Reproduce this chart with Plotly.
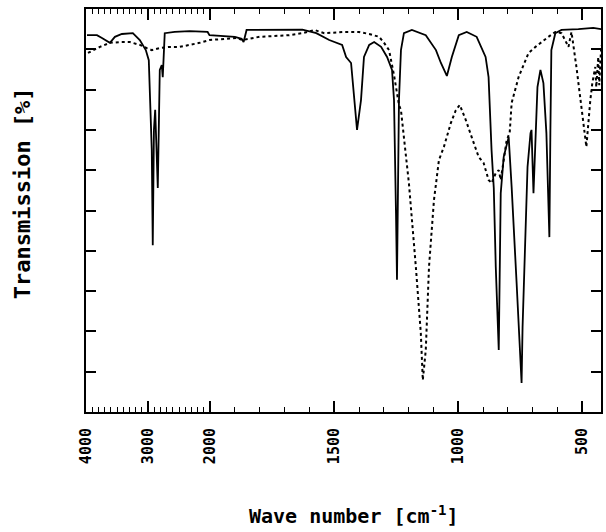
import plotly.graph_objects as go

# ---- data (wavenumber cm^-1, transmission %) ----
solid_wn = [3984, 3823, 3743, 3615, 3534, 3422, 3245, 3133, 3036, 2988, 2940, 2924, 2905, 2885,
            2843, 2811, 2779, 2763, 2731, 2571, 2330, 2040, 2010, 1900, 1873, 1865, 1853, 1628,
            1572, 1520, 1468, 1452, 1432, 1420, 1408, 1392, 1380, 1359, 1339, 1311, 1287, 1267,
            1259, 1251, 1247, 1239, 1231, 1219, 1187, 1131, 1090, 1070, 1046, 1026, 998, 966,
            926, 890, 878, 866, 857, 849, 837, 829, 817, 797, 785, 765, 749, 745, 741, 729, 721,
            709, 705, 697, 689, 681, 669, 657, 645, 633, 629, 625, 609, 584, 516, 456, 424]
solid_T = [93.5, 93.5, 92.8, 91.6, 93.1, 93.8, 94.0, 92.3, 89.8, 87.3, 65.0, 41.4, 70.0, 75.0,
           55.6, 84.9, 86.1, 83.1, 94.0, 94.3, 94.5, 94.3, 93.5, 93.1, 92.6, 91.8, 94.8, 94.9,
           94.0, 92.3, 91.1, 88.1, 86.6, 77.4, 70.0, 77.4, 88.1, 91.1, 91.8, 90.6, 88.1, 84.9,
           77.4, 49.4, 32.8, 77.4, 89.8, 94.0, 94.8, 93.5, 89.8, 86.6, 83.4, 88.1, 93.5, 94.3,
           93.1, 88.1, 83.1, 65.0, 55.6, 36.0, 15.4, 54.3, 63.3, 68.2, 55.8, 32.0, 11.2, 7.2, 21.1,
           44.4, 60.8, 69.2, 70.0, 54.3, 67.5, 80.6, 84.9, 81.6, 69.2, 43.4, 69.2, 89.8, 94.0,
           94.8, 95.0, 95.3, 95.0]

dotted_wn = [3968, 3888, 3775, 3615, 3454, 3293, 3133, 3020, 2940, 2811, 2651, 2490, 2169, 2009,
             1894, 1869, 1801, 1681, 1628, 1580, 1540, 1460, 1400, 1359, 1319, 1299, 1279, 1259,
             1239, 1231, 1199, 1171, 1151, 1143, 1131, 1118, 1098, 1078, 1058, 1030, 1010, 994,
             970, 946, 918, 898, 878, 866, 849, 837, 829, 817, 805, 793, 785, 757, 717, 689, 665,
             637, 609, 584, 556, 544, 524, 504, 484, 468, 460, 448, 444, 436, 432, 424]
dotted_T = [89.1, 89.8, 90.6, 91.6, 91.8, 91.8, 91.1, 90.3, 89.8, 90.3, 90.6, 90.6, 91.6, 92.3,
            92.8, 92.3, 93.1, 93.5, 94.0, 94.8, 94.0, 94.3, 94.3, 93.8, 93.1, 91.6, 89.8, 83.6,
            76.2, 74.9, 56.8, 36.0, 19.6, 7.9, 15.4, 36.0, 52.6, 62.5, 65.8, 71.7, 74.9, 76.2,
            72.5, 68.2, 63.3, 61.8, 57.6, 56.8, 59.3, 60.0, 57.6, 62.5, 67.5, 69.2, 76.7, 83.1,
            89.1, 90.6, 91.8, 93.1, 94.3, 94.0, 90.6, 94.3, 85.6, 74.9, 65.8, 77.4, 81.6, 85.6,
            80.6, 88.1, 81.1, 91.0]

major_wn = [4000, 3000, 2000, 1500, 1000, 500]
major_labels = ["4000", "3000", "2000", "1500", "1000", "500"]
minor_wn = list(range(3900, 2000, -100)) + list(range(1900, 400, -100))
x_min_wn, x_max_wn = 4000, 425
y_ticks = [10, 20, 30, 40, 50, 60, 70, 80, 90]


def pos(wn):
    """Piecewise axis: 4000-2000 compressed 4x relative to 2000-400."""
    return (4000 - wn) / 4.0 if wn >= 2000 else 500 + (2000 - wn)


FONT = "DejaVu Sans Mono"

fig = go.Figure()
fig.add_trace(go.Scatter(x=[pos(w) for w in solid_wn], y=solid_T, mode="lines",
                         line=dict(color="black", width=1.8), showlegend=False))
fig.add_trace(go.Scatter(x=[pos(w) for w in dotted_wn], y=dotted_T, mode="lines",
                         line=dict(color="black", width=2, dash="dot"), showlegend=False))

fig.update_layout(
    width=606, height=532,
    margin=dict(l=86, r=3, t=9, b=120),
    paper_bgcolor="white", plot_bgcolor="white",
    font=dict(family=FONT, color="black"),
    xaxis=dict(range=[pos(x_min_wn), pos(x_max_wn)], showgrid=False, zeroline=False,
               showline=True, linecolor="black", linewidth=2, mirror="ticks",
               ticks="inside", ticklen=11, tickwidth=1.5, tickcolor="black",
               tickmode="array", tickvals=[pos(w) for w in major_wn], ticktext=major_labels,
               tickangle=-90, ticklabelstandoff=8,
               tickfont=dict(family=FONT, size=15, weight="bold"),
               minor=dict(tickmode="array", tickvals=[pos(w) for w in minor_wn],
                          ticks="inside", ticklen=5, tickwidth=1.3, tickcolor="black")),
    yaxis=dict(range=[0, 100], showgrid=False, zeroline=False,
               showline=True, linecolor="black", linewidth=2, mirror="ticks",
               ticks="inside", ticklen=10, tickwidth=1.5, tickcolor="black",
               tickmode="array", tickvals=y_ticks, showticklabels=False),
    annotations=[
        dict(text="Transmission [%]", xref="paper", yref="paper", x=-0.124, y=0.543,
             xanchor="center", yanchor="middle", textangle=-90, showarrow=False,
             font=dict(family=FONT, size=22, weight="bold")),
        dict(text="Wave number [cm<sup>-1</sup>]", xref="paper", yref="paper", x=0.52, y=-0.256,
             xanchor="center", yanchor="middle", showarrow=False,
             font=dict(family=FONT, size=20, weight="bold")),
    ],
)

fig.write_html("out.html")
